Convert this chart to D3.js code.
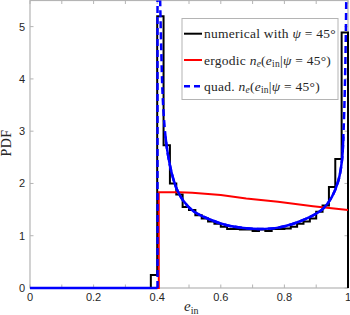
<!DOCTYPE html>
<html>
<head>
<meta charset="utf-8">
<script src="https://cdn.jsdelivr.net/npm/d3@7"></script>
<style>
body { margin: 0; background: #fff; }
svg { display: block; }
</style>
</head>
<body>
<svg id="chart" width="350" height="315"></svg>
<script>
// numerical histogram: bin left edges (width 0.02) and PDF values
var binEdges = [0.38, 0.40, 0.42, 0.44, 0.46, 0.48, 0.50, 0.52, 0.54, 0.56, 0.58,
	0.60, 0.62, 0.64, 0.66, 0.68, 0.70, 0.72, 0.74, 0.76, 0.78,
	0.80, 0.82, 0.84, 0.86, 0.88, 0.90, 0.92, 0.94, 0.96, 0.98];
var binValues = [0.25, 5.2, 2.73, 2.00, 1.79, 1.55, 1.49, 1.39, 1.33, 1.27, 1.23,
	1.17, 1.13, 1.13, 1.12, 1.12, 1.09, 1.12, 1.09, 1.13, 1.13,
	1.14, 1.17, 1.23, 1.27, 1.33, 1.46, 1.58, 1.93, 2.47, 4.89];

// ergodic n_e
var ergE = [0, 0.405, 0.405, 0.41, 0.47, 0.51, 0.60, 0.68, 0.78, 0.89, 1.0];
var ergV = [0, 0, 1.83, 1.83, 1.83, 1.82, 1.78, 1.71, 1.65, 1.565, 1.49];

// quad. n_e (first three points: baseline and rise, rest: the U curve)
var quadE = [0, 0.401, 0.401, 0.4055, 0.409, 0.413, 0.417, 0.423, 0.430, 0.440, 0.450,
	0.461, 0.482, 0.514, 0.566, 0.619, 0.671, 0.723, 0.776, 0.828, 0.881,
	0.922, 0.949, 0.970, 0.981, 0.986, 0.990, 0.993, 0.995, 0.997];
var quadV = [0, 0, 7, 7, 5.6, 4.5, 3.7, 3.1, 2.7, 2.35, 2.1,
	1.9, 1.67, 1.47, 1.31, 1.20, 1.15, 1.13, 1.15, 1.23, 1.36,
	1.52, 1.74, 2.06, 2.44, 3.0, 3.8, 4.8, 5.8, 7];

var xTicks = [0, 0.2, 0.4, 0.6, 0.8, 1];
var xMinorTicks = [0.1, 0.3, 0.5, 0.7, 0.9];
var yTicks = [0, 1, 2, 3, 4, 5];

var legendRows = ["numerical", "ergodic", "quad"];

var svg = d3.select("#chart");
var mLeft = 30, mRight = 348, mTop = 0.5, mBottom = 288;

var x = d3.scaleLinear().domain([0, 1]).range([mLeft, mRight]);
var y = d3.scaleLinear().domain([0, 5.5]).range([mBottom, mTop]);

var axisColor = "#b4b4b4";
var labelColor = "#262626";
var serif = "Liberation Serif, Times New Roman, serif";

var defs = svg.append("defs");
defs.append("clipPath").attr("id", "plotClip")
	.append("rect")
	.attr("x", mLeft - 3).attr("y", mTop)
	.attr("width", mRight - mLeft + 6).attr("height", mBottom - mTop + 4);

defs.append("clipPath").attr("id", "lowClip")
	.append("rect")
	.attr("x", mLeft).attr("y", y(2.9))
	.attr("width", mRight - mLeft).attr("height", mBottom - y(2.9) + 4);

// axes box
svg.append("rect")
	.attr("x", mLeft).attr("y", mTop)
	.attr("width", mRight - mLeft).attr("height", mBottom - mTop)
	.attr("fill", "none")
	.attr("stroke", axisColor)
	.attr("stroke-width", 1.2);

// ticks, inward on all four sides
var tickLen = 3.5;
var allX = xTicks.concat(xMinorTicks);
svg.append("g").selectAll("line").data(allX).enter().append("line")
	.attr("x1", function(d) { return x(d); }).attr("x2", function(d) { return x(d); })
	.attr("y1", mBottom).attr("y2", mBottom - tickLen)
	.attr("stroke", axisColor);
svg.append("g").selectAll("line").data(allX).enter().append("line")
	.attr("x1", function(d) { return x(d); }).attr("x2", function(d) { return x(d); })
	.attr("y1", mTop).attr("y2", mTop + tickLen)
	.attr("stroke", axisColor);
svg.append("g").selectAll("line").data(yTicks).enter().append("line")
	.attr("x1", mLeft).attr("x2", mLeft + tickLen)
	.attr("y1", function(d) { return y(d); }).attr("y2", function(d) { return y(d); })
	.attr("stroke", axisColor);
svg.append("g").selectAll("line").data(yTicks).enter().append("line")
	.attr("x1", mRight).attr("x2", mRight - tickLen)
	.attr("y1", function(d) { return y(d); }).attr("y2", function(d) { return y(d); })
	.attr("stroke", axisColor);

// tick labels
svg.append("g").selectAll("text").data(xTicks).enter().append("text")
	.attr("x", function(d) { return x(d); })
	.attr("y", 301)
	.attr("text-anchor", "middle")
	.attr("font-family", "Liberation Sans, Arial, sans-serif")
	.attr("font-size", 11)
	.attr("fill", labelColor)
	.text(function(d) { return d; });

svg.append("g").selectAll("text").data(yTicks).enter().append("text")
	.attr("x", 25)
	.attr("y", function(d) { return y(d) + 4; })
	.attr("text-anchor", "end")
	.attr("font-family", "Liberation Sans, Arial, sans-serif")
	.attr("font-size", 11)
	.attr("fill", labelColor)
	.text(function(d) { return d; });

// axis labels
svg.append("text")
	.attr("transform", "translate(11,143) rotate(-90)")
	.attr("text-anchor", "middle")
	.attr("font-family", serif)
	.attr("font-size", 14)
	.attr("letter-spacing", 0.5)
	.attr("fill", labelColor)
	.text("PDF");

var xl = svg.append("text")
	.attr("x", 184).attr("y", 311)
	.attr("font-family", serif)
	.attr("font-size", 15)
	.attr("fill", labelColor);
xl.append("tspan").attr("font-style", "italic").text("e");
xl.append("tspan").attr("font-size", 10).attr("dy", 3).text("in");

var plot = svg.append("g").attr("clip-path", "url(#plotClip)");

// histogram as a stair line
var histPts = [[0, 0]];
binEdges.forEach(function(e, i) {
	histPts.push([e, histPts[histPts.length - 1][1]]);
	histPts.push([e, binValues[i]]);
});
histPts.push([1, binValues[binValues.length - 1]]);
histPts.push([1, 0]);

var line = d3.line()
	.x(function(d) { return x(d[0]); })
	.y(function(d) { return y(d[1]); });

plot.append("path")
	.datum(histPts)
	.attr("fill", "none")
	.attr("stroke", "#000")
	.attr("stroke-width", 2)
	.attr("d", line);

// ergodic
var ergPts = ergE.map(function(e, i) { return [e, ergV[i]]; });
plot.append("path")
	.datum(ergPts)
	.attr("fill", "none")
	.attr("stroke", "#ff0000")
	.attr("stroke-width", 2)
	.attr("d", line);

// quad
var quadPts = quadE.map(function(e, i) { return [e, quadV[i]]; });
var smooth = d3.line()
	.curve(d3.curveCatmullRom.alpha(0.5))
	.x(function(d) { return x(d[0]); })
	.y(function(d) { return y(d[1]); });

plot.append("path")
	.datum(quadPts.slice(0, 2))
	.attr("fill", "none")
	.attr("stroke", "#0000ff")
	.attr("stroke-width", 2.5)
	.attr("d", line);

plot.append("path")
	.datum(quadPts.slice(1, 3))
	.attr("fill", "none")
	.attr("stroke", "#0000ff")
	.attr("stroke-width", 2.5)
	.attr("stroke-dasharray", "7,4")
	.attr("d", line);

plot.append("path")
	.datum(quadPts.slice(3))
	.attr("fill", "none")
	.attr("stroke", "#0000ff")
	.attr("stroke-width", 2.5)
	.attr("stroke-dasharray", "7,4")
	.attr("d", smooth);

svg.append("g").attr("clip-path", "url(#lowClip)")
	.append("path")
	.datum(quadPts.slice(3))
	.attr("fill", "none")
	.attr("stroke", "#0000ff")
	.attr("stroke-width", 2.5)
	.attr("d", smooth);

// legend
var lg = svg.append("g");
lg.append("rect")
	.attr("x", 182).attr("y", 18.5)
	.attr("width", 156).attr("height", 81)
	.attr("fill", "#fff")
	.attr("stroke", axisColor)
	.attr("stroke-width", 1);

var rowY = [33.7, 60, 86.3];
var rowStyle = {
	numerical: { color: "#000", dash: null, w: 2 },
	ergodic: { color: "#ff0000", dash: null, w: 2 },
	quad: { color: "#0000ff", dash: "6,4", w: 2.5 }
};
legendRows.forEach(function(k, i) {
	var s = rowStyle[k];
	var l = lg.append("line")
		.attr("x1", 184).attr("x2", 202)
		.attr("y1", rowY[i]).attr("y2", rowY[i])
		.attr("stroke", s.color)
		.attr("stroke-width", s.w);
	if (s.dash) l.attr("stroke-dasharray", s.dash);
});

function legendText(i) {
	return lg.append("text")
		.attr("x", 204).attr("y", rowY[i] + 4.5)
		.attr("font-family", serif)
		.attr("font-size", 13.5)
		.attr("letter-spacing", 0.25)
		.attr("fill", labelColor);
}

var t0 = legendText(0);
t0.append("tspan").text("numerical with ");
t0.append("tspan").attr("font-style", "italic").text("ψ");
t0.append("tspan").text(" = 45°");

function neText(t, prefix) {
	t.append("tspan").text(prefix);
	t.append("tspan").attr("font-style", "italic").text("n");
	t.append("tspan").attr("font-style", "italic").attr("font-size", 9.5).attr("dy", 2.5).text("e");
	t.append("tspan").attr("dy", -2.5).text("(");
	t.append("tspan").attr("font-style", "italic").text("e");
	t.append("tspan").attr("font-size", 9.5).attr("dy", 2.5).text("in");
	t.append("tspan").attr("dy", -2.5).text("|");
	t.append("tspan").attr("font-style", "italic").text("ψ");
	t.append("tspan").text(" = 45°)");
}
neText(legendText(1), "ergodic ");
neText(legendText(2), "quad. ");
</script>
</body>
</html>
